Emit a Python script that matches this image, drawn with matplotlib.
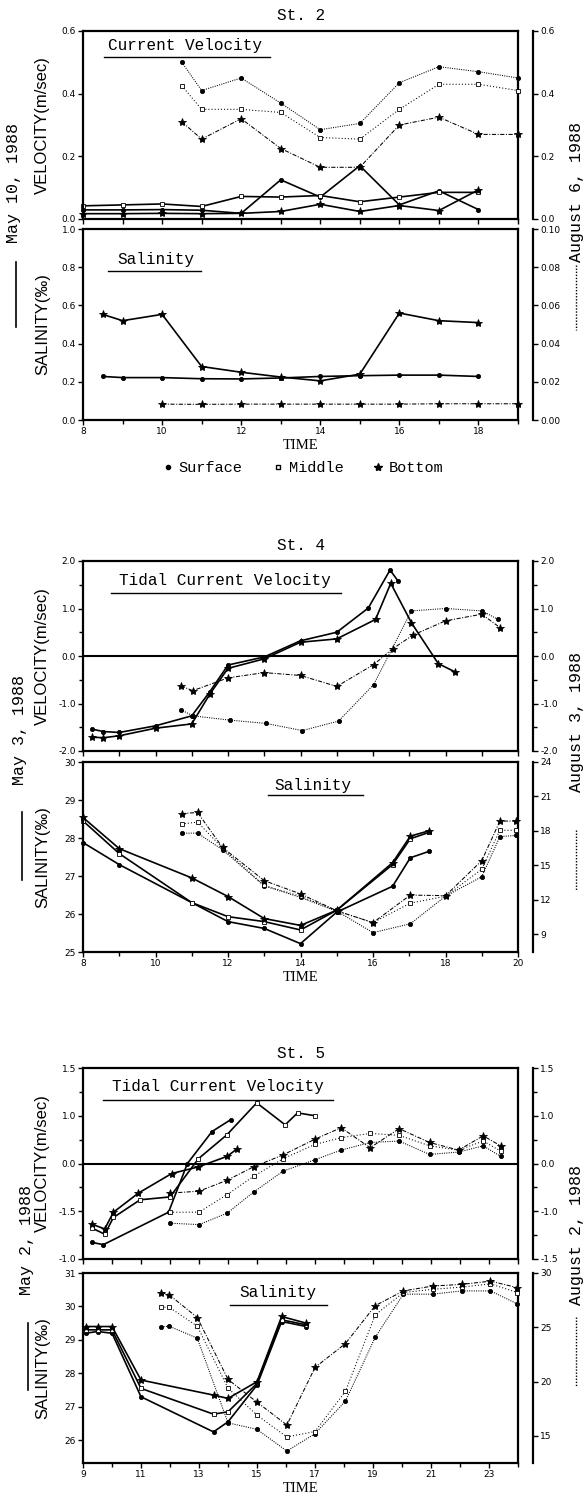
import matplotlib.pyplot as plt
from matplotlib.lines import Line2D

plt.rcParams['font.family'] = ['Liberation Mono', 'DejaVu Sans']

# ---------------- St. 2  (May 10, 1988 / August 6, 1988) ----------------
st2_vel_may_hours = [8, 9, 10, 11, 12, 13, 14, 15, 16, 17, 18]
st2_vel_may_surface = [0.029, 0.029, 0.030, 0.028, 0.018, 0.125, 0.070, 0.170, 0.045, 0.090, 0.030]
st2_vel_may_middle = [0.042, 0.045, 0.048, 0.040, 0.072, 0.070, 0.075, 0.055, 0.070, 0.085, 0.085]
st2_vel_may_bottom = [0.017, 0.017, 0.018, 0.017, 0.018, 0.024, 0.047, 0.024, 0.043, 0.027, 0.093]

st2_vel_aug_hours = [10.5, 11, 12, 13, 14, 15, 16, 17, 18, 19]
st2_vel_aug_surface = [0.50, 0.41, 0.45, 0.37, 0.285, 0.305, 0.435, 0.486, 0.47, 0.45]
st2_vel_aug_middle = [0.425, 0.35, 0.35, 0.34, 0.26, 0.255, 0.35, 0.43, 0.43, 0.41]
st2_vel_aug_bottom = [0.31, 0.255, 0.32, 0.225, 0.165, 0.165, 0.30, 0.325, 0.27, 0.27]

st2_sal_may_hours = [8.5, 9, 10, 11, 12, 13, 14, 15, 16, 17, 18]
st2_sal_may_surface = [0.228, 0.222, 0.222, 0.216, 0.215, 0.220, 0.228, 0.232, 0.235, 0.235, 0.228]
st2_sal_may_bottom = [0.553, 0.52, 0.553, 0.28, 0.25, 0.225, 0.205, 0.24, 0.56, 0.52, 0.51]

st2_sal_aug_hours = [10, 11, 12, 13, 14, 15, 16, 17, 18, 19]
st2_sal_aug_bottom = [0.0083, 0.0082, 0.0083, 0.0083, 0.0083, 0.0083, 0.0083, 0.0085, 0.0085, 0.0085]

# ---------------- St. 4  (May 3, 1988 / August 3, 1988) ----------------
st4_vel_may_surface_hours = [8.25, 8.56, 9, 10, 11, 11.5, 12, 13, 14, 15, 15.87, 16.47, 16.7]
st4_vel_may_surface = [-1.54, -1.59, -1.61, -1.47, -1.26, -0.75, -0.19, -0.02, 0.32, 0.5, 1.01, 1.81, 1.57]
st4_vel_may_bottom_hours = [8.25, 8.56, 9, 10, 11, 11.5, 12, 13, 14, 15, 16.07, 16.49, 17.06, 17.8, 18.25]
st4_vel_may_bottom = [-1.71, -1.72, -1.68, -1.52, -1.43, -0.8, -0.26, -0.06, 0.29, 0.36, 0.77, 1.53, 0.7, -0.16, -0.33]

st4_vel_aug_surface_hours = [10.7, 11.03, 12.05, 13.05, 14.05, 15.05, 16.02, 17.06, 18.0, 19.0, 19.45]
st4_vel_aug_surface = [-1.13, -1.26, -1.35, -1.42, -1.57, -1.37, -0.6, 0.95, 1.0, 0.95, 0.77]
st4_vel_aug_bottom_hours = [10.7, 11.03, 12.0, 13.0, 14.0, 15.0, 16.02, 16.54, 17.1, 18.0, 19.0, 19.5]
st4_vel_aug_bottom = [-0.63, -0.73, -0.46, -0.35, -0.41, -0.64, -0.18, 0.15, 0.44, 0.74, 0.88, 0.6]

st4_sal_may_hours = [8, 9, 11, 12, 13, 14, 15, 16.54, 17.03, 17.55]
st4_sal_may_surface = [27.88, 27.3, 26.3, 25.8, 25.62, 25.22, 26.05, 26.73, 27.48, 27.65]
st4_sal_may_middle = [28.45, 27.59, 26.3, 25.93, 25.8, 25.58, 26.1, 27.3, 27.98, 28.15]
st4_sal_may_bottom = [28.54, 27.72, 26.95, 26.46, 25.88, 25.7, 26.1, 27.35, 28.05, 28.19]

st4_sal_aug_hours = [10.72, 11.16, 11.85, 13.0, 14.0, 15.03, 16.0, 17.03, 18.0, 19.0, 19.5, 19.95]
st4_sal_aug_surface = [17.8, 17.8, 16.35, 13.2, 12.2, 10.95, 9.13, 9.9, 12.3, 14.0, 17.5, 17.6]
st4_sal_aug_middle = [18.6, 18.76, 16.5, 13.24, 12.3, 11.0, 10.0, 11.7, 12.3, 14.65, 18.05, 18.05]
st4_sal_aug_bottom = [19.5, 19.6, 16.55, 13.66, 12.5, 11.0, 10.0, 12.4, 12.35, 15.4, 18.85, 18.85]

# ---------------- St. 5  (May 2, 1988 / August 2, 1988) ----------------
# velocity axis as printed: ticks at -2..2 carry the labels -1.0, -1.5, 0.0, 1.0, 1.5
st5_vel_may_surface_hours = [9.3, 9.7, 11.95, 12.6, 13.45, 14.1]
st5_vel_may_surface = [-1.65, -1.7, -1.02, 0.0, 0.67, 0.92]
st5_vel_may_middle_hours = [9.3, 9.75, 10.05, 10.97, 12.0, 12.98, 13.96, 14.99, 15.97, 16.4, 17.0]
st5_vel_may_middle = [-1.35, -1.48, -1.13, -0.76, -0.70, 0.1, 0.6, 1.27, 0.81, 1.06, 1.0]
st5_vel_may_bottom_hours = [9.3, 9.75, 10.05, 10.91, 12.06, 12.98, 13.97, 14.3]
st5_vel_may_bottom = [-1.27, -1.37, -1.02, -0.62, -0.21, -0.07, 0.15, 0.3]

st5_vel_aug_hours = [12.0, 13.0, 13.97, 14.88, 15.9, 17.0, 17.9, 18.9, 19.9, 20.95, 21.95, 22.8, 23.4]
st5_vel_aug_surface = [-1.25, -1.28, -1.04, -0.6, -0.16, 0.08, 0.28, 0.44, 0.47, 0.19, 0.24, 0.37, 0.15]
st5_vel_aug_middle = [-1.02, -1.02, -0.65, -0.27, 0.1, 0.4, 0.54, 0.63, 0.59, 0.37, 0.28, 0.47, 0.26]
st5_vel_aug_bottom = [-0.62, -0.58, -0.35, -0.07, 0.18, 0.51, 0.75, 0.33, 0.73, 0.44, 0.28, 0.58, 0.37]

st5_sal_may_hours = [9.1, 9.5, 10, 11, 13.5, 14, 15, 15.85, 16.7]
st5_sal_may_surface = [29.2, 29.25, 29.2, 27.3, 26.25, 26.55, 27.65, 29.55, 29.4]
st5_sal_may_middle = [29.3, 29.3, 29.3, 27.55, 26.78, 26.85, 27.7, 29.6, 29.45]
st5_sal_may_bottom = [29.4, 29.4, 29.4, 27.8, 27.35, 27.25, 27.75, 29.7, 29.5]

st5_sal_aug_hours = [11.7, 11.97, 12.94, 14.0, 15.0, 16.03, 17.0, 18.05, 19.08, 20.05, 21.06, 22.06, 23.05, 23.98]
st5_sal_aug_surface = [25.05, 25.1, 24.0, 16.2, 15.6, 13.6, 15.2, 18.2, 24.1, 28.05, 28.05, 28.35, 28.35, 27.15]
st5_sal_aug_middle = [26.85, 26.85, 25.1, 19.4, 16.9, 14.9, 15.4, 19.1, 26.15, 28.2, 28.5, 28.7, 29.0, 28.2]
st5_sal_aug_bottom = [28.2, 28.0, 25.9, 20.2, 18.1, 16.0, 21.3, 23.5, 27.0, 28.35, 28.8, 28.95, 29.25, 28.65]

# ---------------------------------------------------------------------------
W_PX, H_PX = 584, 1497
fig = plt.figure(figsize=(W_PX / 100, H_PX / 100), dpi=100)


def fx(px):
    return px / W_PX


def fy(py):
    return 1 - py / H_PX


MARK = {
    'surface': dict(marker='o', ms=3.0, mfc='k'),
    'middle': dict(marker='s', ms=3.2, mfc='white'),
    'bottom': dict(marker='*', ms=6.0, mfc='k'),
}
AUG_LS = {
    'surface': (0, (1, 1.2)),
    'middle': (0, (1, 2.0)),
    'bottom': (0, (4, 1.5, 1, 1.5)),
}


def may(ax, x, y, kind):
    ax.plot(x, y, color='k', lw=1.2, ls='-', mec='k', mew=0.6, clip_on=False, **MARK[kind])


def aug(ax, x, y, kind):
    ax.plot(x, y, color='k', lw=0.75, ls=AUG_LS[kind], mec='k', mew=0.6, clip_on=False, **MARK[kind])


def panel(top_px, bot_px, xlim, xmajor, xminor, show_x, ylim, yticks, ylabels, yminor,
          rylim, rticks, rlabels, rminor, ylabel):
    left, right = 83, 518
    ax = fig.add_axes([fx(left), fy(bot_px), fx(right - left), (bot_px - top_px) / H_PX])
    ax.set_xlim(xlim)
    ax.set_ylim(ylim)
    ax.set_xticks(xmajor)
    ax.set_xticks(xminor, minor=True)
    ax.set_yticks(yticks)
    ax.set_yticklabels(ylabels)
    ax.set_yticks(yminor, minor=True)
    for s in ax.spines.values():
        s.set_linewidth(1.6)
    ax.tick_params(which='both', direction='out', width=1.0, labelsize=6.5,
                   labelfontfamily='DejaVu Sans', pad=1.5)
    ax.tick_params(which='major', length=3.5)
    ax.tick_params(which='minor', length=3.0)
    ax.tick_params(axis='x', labelbottom=show_x)
    ax.set_ylabel(ylabel, family='Liberation Sans', size=12)
    ax.yaxis.set_label_coords(-0.075, 0.5)

    axr = ax.twinx()
    axr.set_ylim(rylim)
    axr.set_yticks(rticks)
    axr.set_yticklabels(rlabels)
    axr.set_yticks(rminor, minor=True)
    for s in ['left', 'top', 'bottom']:
        axr.spines[s].set_visible(False)
    axr.spines['right'].set_position(('outward', 11))
    axr.spines['right'].set_linewidth(1.6)
    axr.tick_params(which='both', direction='out', width=1.0, labelsize=6.5,
                    labelfontfamily='DejaVu Sans', pad=1.5)
    axr.tick_params(which='major', length=3.5)
    axr.tick_params(which='minor', length=3.0)
    return ax, axr


def heading(ax, text, x, y, x0, x1, yline):
    ax.text(x, y, text, transform=ax.transAxes, ha='left', va='center', size=11.5)
    ax.plot([x0, x1], [yline, yline], transform=ax.transAxes, color='k', lw=1.0, clip_on=False)


def side_keys(left_text, right_text, lx, ltext_c, lline, rx, rtext_c, rline):
    fig.text(fx(lx), fy(ltext_c), left_text, rotation=90, ha='center', va='center', size=12)
    fig.add_artist(Line2D([fx(lx + 2)] * 2, [fy(lline[0]), fy(lline[1])],
                          transform=fig.transFigure, color='k', lw=1.2))
    fig.text(fx(rx), fy(rtext_c), right_text, rotation=90, ha='center', va='center', size=12)
    fig.add_artist(Line2D([fx(rx)] * 2, [fy(rline[0]), fy(rline[1])],
                          transform=fig.transFigure, color='k', lw=1.0, ls=(0, (1, 1.2))))


def fmt(vals, pattern):
    return [pattern.format(v) for v in vals]


# ======================= St. 2 =======================
fig.text(0.515, fy(16), 'St. 2', ha='center', va='center', size=11.5)
hours8_19 = list(range(8, 20))
ax, axr = panel(31, 219, (8, 19), hours8_19, [], False,
                (0, 0.6), [0, 0.2, 0.4, 0.6], fmt([0, 0.2, 0.4, 0.6], '{:.1f}'), [],
                (0, 0.6), [0, 0.2, 0.4, 0.6], fmt([0, 0.2, 0.4, 0.6], '{:.1f}'), [],
                'VELOCITY(m/sec)')
may(ax, st2_vel_may_hours, st2_vel_may_surface, 'surface')
may(ax, st2_vel_may_hours, st2_vel_may_middle, 'middle')
may(ax, st2_vel_may_hours, st2_vel_may_bottom, 'bottom')
aug(axr, st2_vel_aug_hours, st2_vel_aug_surface, 'surface')
aug(axr, st2_vel_aug_hours, st2_vel_aug_middle, 'middle')
aug(axr, st2_vel_aug_hours, st2_vel_aug_bottom, 'bottom')
heading(ax, 'Current Velocity', 0.057, 0.924, 0.048, 0.43, 0.86)

sal_l = [0, 0.2, 0.4, 0.6, 0.8, 1.0]
sal_r = [0, 0.02, 0.04, 0.06, 0.08, 0.10]
ax, axr = panel(229, 420, (8, 19), list(range(8, 19, 2)), [9, 11, 13, 15, 17, 19], True,
                (0, 1.0), sal_l, fmt(sal_l, '{:.1f}'), [],
                (0, 0.1), sal_r, fmt(sal_r, '{:.2f}'), [],
                'SALINITY(‰)')
may(ax, st2_sal_may_hours, st2_sal_may_surface, 'surface')
may(ax, st2_sal_may_hours, st2_sal_may_bottom, 'bottom')
aug(axr, st2_sal_aug_hours, st2_sal_aug_bottom, 'bottom')
heading(ax, 'Salinity', 0.08, 0.839, 0.057, 0.271, 0.781)
ax.set_xlabel('TIME', family='Liberation Serif', size=10.5, labelpad=2)

fig.legend(handles=[
    Line2D([], [], ls='none', color='k', mec='k', **MARK['surface'], label='Surface'),
    Line2D([], [], ls='none', color='k', mec='k', **MARK['middle'], label='Middle'),
    Line2D([], [], ls='none', color='k', mec='k', **MARK['bottom'], label='Bottom'),
], loc='center', bbox_to_anchor=(0.52, fy(468)), ncol=3, frameon=False,
    prop={'family': 'Liberation Mono', 'size': 11}, handlelength=0.6,
    handletextpad=0.4, columnspacing=2.0)

side_keys('May 10, 1988', 'August 6, 1988', 14, 183, (262, 327), 576, 192, (265, 330))

# ======================= St. 4 =======================
fig.text(0.515, fy(545), 'St. 4', ha='center', va='center', size=11.5)
hours8_20 = list(range(8, 21))
v4 = [-2, -1, 0, 1, 2]
ax, axr = panel(561, 751, (8, 20), hours8_20, [], False,
                (-2, 2), v4, fmt(v4, '{:.1f}'), [-1.5, -0.5, 0.5, 1.5],
                (-2, 2), v4, fmt(v4, '{:.1f}'), [-1.5, -0.5, 0.5, 1.5],
                'VELOCITY(m/sec)')
ax.axhline(0, color='k', lw=1.5)
may(ax, st4_vel_may_surface_hours, st4_vel_may_surface, 'surface')
may(ax, st4_vel_may_bottom_hours, st4_vel_may_bottom, 'bottom')
aug(axr, st4_vel_aug_surface_hours, st4_vel_aug_surface, 'surface')
aug(axr, st4_vel_aug_bottom_hours, st4_vel_aug_bottom, 'bottom')
heading(ax, 'Tidal Current Velocity', 0.083, 0.895, 0.064, 0.593, 0.832)

s4l = [25, 26, 27, 28, 29, 30]
s4r = [9, 12, 15, 18, 21, 24]
ax, axr = panel(762, 952, (8, 20), list(range(8, 21, 2)), list(range(9, 20, 2)), True,
                (25, 30), s4l, fmt(s4l, '{}'), [],
                (7.44, 24), s4r, fmt(s4r, '{}'), [],
                'SALINITY(‰)')
may(ax, st4_sal_may_hours, st4_sal_may_surface, 'surface')
may(ax, st4_sal_may_hours, st4_sal_may_middle, 'middle')
may(ax, st4_sal_may_hours, st4_sal_may_bottom, 'bottom')
aug(axr, st4_sal_aug_hours, st4_sal_aug_surface, 'surface')
aug(axr, st4_sal_aug_hours, st4_sal_aug_middle, 'middle')
aug(axr, st4_sal_aug_hours, st4_sal_aug_bottom, 'bottom')
heading(ax, 'Salinity', 0.441, 0.877, 0.425, 0.644, 0.825)
ax.set_xlabel('TIME', family='Liberation Serif', size=10.5, labelpad=2)

side_keys('May 3, 1988', 'August 3, 1988', 20, 730, (812, 880), 576, 722, (830, 890))

# ======================= St. 5 =======================
fig.text(0.515, fy(1053), 'St. 5', ha='center', va='center', size=11.5)
hours9_24 = list(range(9, 25))
v5_pos = [-2, -1, 0, 1, 2]
v5_left = ['-1.0', '-1.5', '0.0', '1.0', '1.5']
v5_right = ['-1.5', '-1.0', '0.0', '1.0', '1.5']
ax, axr = panel(1068, 1259, (9, 24), hours9_24, [], False,
                (-2, 2), v5_pos, v5_left, [-1.5, -0.5, 0.5, 1.5],
                (-2, 2), v5_pos, v5_right, [-1.5, -0.5, 0.5, 1.5],
                'VELOCITY(m/sec)')
ax.axhline(0, color='k', lw=1.5)
may(ax, st5_vel_may_surface_hours, st5_vel_may_surface, 'surface')
may(ax, st5_vel_may_middle_hours, st5_vel_may_middle, 'middle')
may(ax, st5_vel_may_bottom_hours, st5_vel_may_bottom, 'bottom')
aug(axr, st5_vel_aug_hours, st5_vel_aug_surface, 'surface')
aug(axr, st5_vel_aug_hours, st5_vel_aug_middle, 'middle')
aug(axr, st5_vel_aug_hours, st5_vel_aug_bottom, 'bottom')
heading(ax, 'Tidal Current Velocity', 0.067, 0.902, 0.046, 0.575, 0.834)

s5l = [26, 27, 28, 29, 30, 31]
s5r = [15, 20, 25, 30]
ax, axr = panel(1273, 1463, (9, 24), list(range(9, 24, 2)), list(range(10, 25, 2)), True,
                (25.32, 31), s5l, fmt(s5l, '{}'), [],
                (12.5, 30), s5r, fmt(s5r, '{}'), [],
                'SALINITY(‰)')
may(ax, st5_sal_may_hours, st5_sal_may_surface, 'surface')
may(ax, st5_sal_may_hours, st5_sal_may_middle, 'middle')
may(ax, st5_sal_may_hours, st5_sal_may_bottom, 'bottom')
aug(axr, st5_sal_aug_hours, st5_sal_aug_surface, 'surface')
aug(axr, st5_sal_aug_hours, st5_sal_aug_middle, 'middle')
aug(axr, st5_sal_aug_hours, st5_sal_aug_bottom, 'bottom')
heading(ax, 'Salinity', 0.359, 0.895, 0.338, 0.561, 0.831)
ax.set_xlabel('TIME', family='Liberation Serif', size=10.5, labelpad=2)

side_keys('May 2, 1988', 'August 2, 1988', 26, 1240, (1323, 1390), 576, 1235, (1317, 1387))

fig.savefig('out.png', dpi=100)
